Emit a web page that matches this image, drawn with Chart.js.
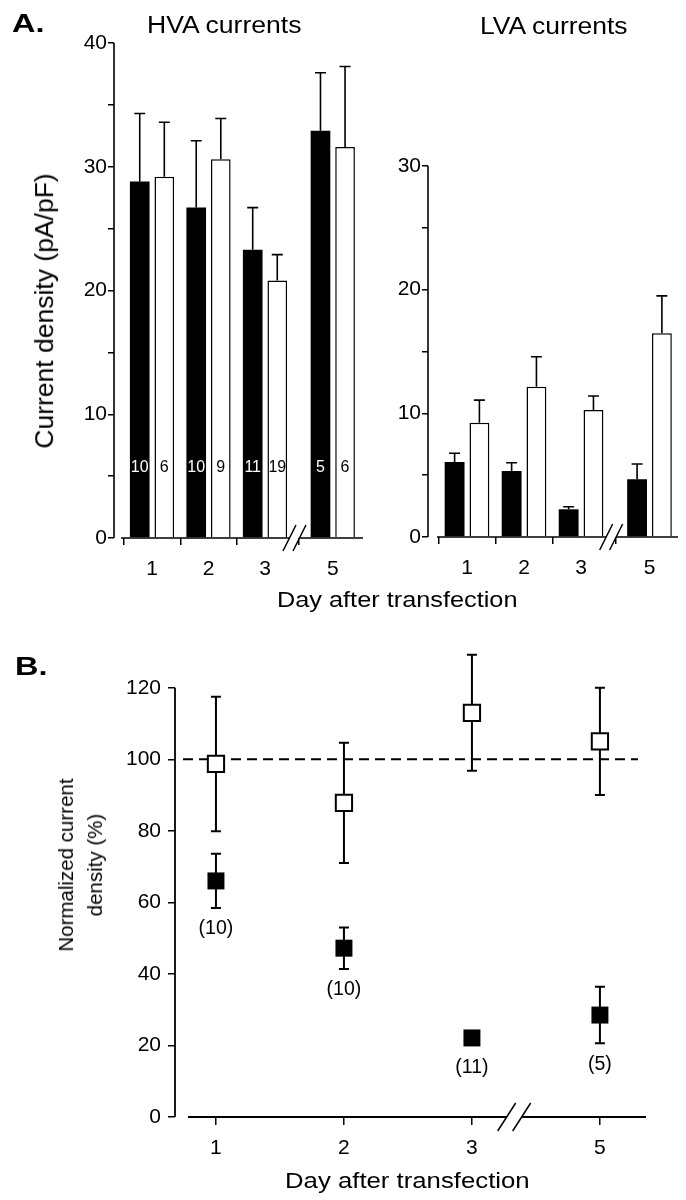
<!DOCTYPE html>
<html><head><meta charset="utf-8">
<script src="https://cdn.jsdelivr.net/npm/chart.js@4.4.1/dist/chart.umd.min.js"></script>
<style>
html,body{margin:0;padding:0;background:#fff;}
body{width:686px;height:1200px;position:relative;overflow:hidden;font-family:"Liberation Sans",Arial,sans-serif;color:#000;}
canvas{position:absolute;}
.t{position:absolute;white-space:nowrap;line-height:1;transform-origin:0 0;}
.r{position:absolute;white-space:nowrap;text-align:center;transform:translate(-50%,-50%) rotate(-90deg);}
</style></head><body>
<canvas id="hva" width="380" height="620" style="left:0;top:0"></canvas>
<canvas id="lva" width="306" height="620" style="left:380px;top:0"></canvas>
<canvas id="norm" width="686" height="580" style="left:0;top:620px"></canvas>

<div class="t" style="left:12px;top:11px;font-size:25px;font-weight:bold;transform:scaleX(1.3)">A.</div>
<div class="t" style="left:147px;top:13.5px;font-size:23px;transform:scaleX(1.155)">HVA currents</div>
<div class="t" style="left:480px;top:14.5px;font-size:23px;transform:scaleX(1.15)">LVA currents</div>
<div class="r" style="left:45px;top:311px;font-size:26.5px;line-height:1.2">Current density (pA/pF)</div>
<div class="t" style="left:277px;top:589px;font-size:22px;transform:scaleX(1.15)">Day after transfection</div>
<div class="t" style="left:15px;top:654px;font-size:25px;font-weight:bold;transform:scaleX(1.3)">B.</div>
<div class="r" style="left:80px;top:865px;font-size:20.5px;line-height:29px">Normalized current<br>density (%)</div>
<div class="t" style="left:285px;top:1170px;font-size:22px;transform:scaleX(1.17)">Day after transfection</div>

<script>
// ---------------- data ----------------
const days = ['1', '2', '3', '5'];

// Panel A, HVA currents (pA/pF)
const hvaFilled    = [28.8, 26.7, 23.3, 32.9];
const hvaFilledSem = [5.5, 5.4, 3.4, 4.7];
const hvaOpen      = [29.2, 30.6, 20.8, 31.6];
const hvaOpenSem   = [4.4, 3.3, 2.1, 6.5];
const hvaFilledN   = ['10', '10', '11', '5'];
const hvaOpenN     = ['6', '9', '19', '6'];

// Panel A, LVA currents (pA/pF)
const lvaFilled    = [6.06, 5.34, 2.24, 4.66];
const lvaFilledSem = [0.71, 0.66, 0.21, 1.24];
const lvaOpen      = [9.24, 12.15, 10.27, 16.47];
const lvaOpenSem   = [1.83, 2.43, 1.13, 3.03];

// Panel B, normalized current density (%)
const normFilled    = [66.0, 47.2, 22.1, 28.5];
const normFilledSem = [7.6, 5.8, 1.5, 7.9];
const normOpen      = [98.7, 87.8, 113.0, 105.0];
const normOpenSem   = [18.8, 16.8, 16.2, 15.0];
const normFilledN   = ['(10)', '(10)', '(11)', '(5)'];
const normRefLine   = 100;

// ---------------- styling ----------------
const FONT = '"Liberation Sans", Arial, sans-serif';
Chart.defaults.font.family = FONT;
Chart.defaults.color = '#000';
const breakIndex = 3;
const TICK_SIZE = 21;

const errBars = {
  id: 'errBars',
  _draw(chart, o) {
    const ctx = chart.ctx, ys = chart.scales.y;
    ctx.save();
    ctx.strokeStyle = '#000'; ctx.lineWidth = o.width; ctx.lineCap = 'butt';
    chart.data.datasets.forEach((ds, di) => {
      if (!ds.errors) return;
      chart.getDatasetMeta(di).data.forEach((el, i) => {
        const v = ds.data[i].y, e = ds.errors[i], x = el.x, h = o.cap / 2;
        const yHi = ys.getPixelForValue(v + e);
        const yLo = o.mode === 'both' ? ys.getPixelForValue(v - e) : ys.getPixelForValue(v);
        ctx.beginPath();
        ctx.moveTo(x, yLo); ctx.lineTo(x, yHi);
        ctx.moveTo(x - h, yHi); ctx.lineTo(x + h, yHi);
        if (o.mode === 'both') { ctx.moveTo(x - h, yLo); ctx.lineTo(x + h, yLo); }
        ctx.stroke();
      });
    });
    ctx.restore();
  },
  beforeDatasetsDraw(chart, args, o) { if (o.when === 'before') this._draw(chart, o); },
  afterDatasetsDraw(chart, args, o) { if (o.when !== 'before') this._draw(chart, o); }
};

const axesLines = {
  id: 'axesLines',
  afterDraw(chart, args, o) {
    const ctx = chart.ctx, a = chart.chartArea, xs = chart.scales.x, ys = chart.scales.y;
    const pos = o.pos;
    ctx.save();
    ctx.strokeStyle = '#000'; ctx.lineWidth = o.width; ctx.lineCap = 'butt';
    ctx.beginPath();
    ctx.moveTo(a.left, ys.getPixelForValue(o.yFrom));
    ctx.lineTo(a.left, ys.getPixelForValue(o.yTo));
    ctx.stroke();
    const by = ys.getPixelForValue(0);
    const bx = xs.getPixelForValue(pos[breakIndex - 1] + o.breakFrac * (pos[breakIndex] - pos[breakIndex - 1]));
    const s1 = bx - o.sep / 2, s2 = bx + o.sep / 2;
    ctx.beginPath();
    ctx.moveTo(a.left + o.xGap, by); ctx.lineTo(s1, by);
    ctx.moveTo(s2, by); ctx.lineTo(a.right, by);
    ctx.stroke();
    ctx.lineWidth = o.slashWidth;
    ctx.beginPath();
    [s1, s2].forEach(s => {
      ctx.moveTo(s - o.dx / 2, by + o.dy / 2);
      ctx.lineTo(s + o.dx / 2, by - o.dy / 2);
    });
    ctx.stroke();
    ctx.restore();
  }
};

const barCounts = {
  id: 'barCounts',
  afterDatasetsDraw(chart, args, o) {
    const ctx = chart.ctx, ys = chart.scales.y;
    ctx.save();
    ctx.font = o.size + 'px ' + FONT; ctx.textAlign = 'center'; ctx.textBaseline = 'middle';
    chart.data.datasets.forEach((ds, di) => {
      if (!ds.counts) return;
      ctx.fillStyle = ds.countColor;
      chart.getDatasetMeta(di).data.forEach((el, i) => {
        ctx.fillText(ds.counts[i], el.x, ys.getPixelForValue(o.labelValue));
      });
    });
    ctx.restore();
  }
};

const ptCounts = {
  id: 'ptCounts',
  afterDatasetsDraw(chart, args, o) {
    const ctx = chart.ctx, ys = chart.scales.y;
    ctx.save();
    ctx.font = o.size + 'px ' + FONT; ctx.textAlign = 'center'; ctx.textBaseline = 'middle';
    ctx.fillStyle = '#000';
    chart.data.datasets.forEach((ds, di) => {
      if (!ds.counts) return;
      chart.getDatasetMeta(di).data.forEach((el, i) => {
        const v = ds.data[i].y, e = ds.errors[i];
        const low = Math.max(ys.getPixelForValue(v - e), el.y + o.half);
        ctx.fillText(ds.counts[i], el.x, low + o.offset);
      });
    });
    ctx.restore();
  }
};

const refLine = {
  id: 'refLine',
  beforeDatasetsDraw(chart, args, o) {
    const ctx = chart.ctx, a = chart.chartArea, y = chart.scales.y.getPixelForValue(o.value);
    ctx.save();
    ctx.strokeStyle = '#000'; ctx.lineWidth = o.width; ctx.setLineDash(o.dash);
    ctx.beginPath(); ctx.moveTo(a.left + o.inset, y); ctx.lineTo(a.right - o.inset, y); ctx.stroke();
    ctx.restore();
  }
};

function positions(gap) { return days.map((d, i) => i + (i >= breakIndex ? gap : 0)); }

function xScale(pos, g) {
  return {
    type: 'linear', min: g.xMin, max: g.xMax, offset: false,
    afterBuildTicks: s => { s.ticks = pos.map(v => ({ value: v })); },
    afterFit: s => { s.height = g.xh; },
    grid: { display: true, drawOnChartArea: false, drawTicks: true, tickLength: g.xTick, color: '#000', lineWidth: 1.5 },
    border: { display: false },
    ticks: { autoSkip: false, maxRotation: 0, padding: g.xPad, color: '#000', font: { size: TICK_SIZE },
             callback: (v, i) => days[i] }
  };
}

function barChart(id, f, fSem, o, oSem, fN, oN, yMax, g) {
  const pos = positions(g.breakGap);
  return new Chart(document.getElementById(id), {
    type: 'bar',
    data: { datasets: [
      { data: f.map((v, i) => ({ x: pos[i], y: v })), backgroundColor: '#000', borderColor: '#000', borderWidth: 0,
        errors: fSem, counts: fN, countColor: '#fff', categoryPercentage: 0.87, barPercentage: 0.8 },
      { data: o.map((v, i) => ({ x: pos[i], y: v })), backgroundColor: '#fff', borderColor: '#000', borderWidth: 1.5,
        errors: oSem, counts: oN, countColor: '#000', categoryPercentage: 0.87, barPercentage: 0.8 }
    ] },
    options: {
      responsive: false, animation: false, devicePixelRatio: 1,
      layout: { padding: { left: 0, top: g.top, right: g.right, bottom: 0 } },
      plugins: {
        legend: { display: false }, tooltip: { enabled: false },
        errBars: { mode: 'up', cap: 11, width: 1.6, when: 'after' },
        axesLines: { pos, yFrom: 0, yTo: yMax, xGap: g.xGap, breakFrac: g.breakFrac, sep: 10, dx: 13, dy: 26, width: 1.6, slashWidth: 1.5 },
        barCounts: { labelValue: 5.65, size: 16 }
      },
      scales: {
        x: xScale(pos, g),
        y: { min: 0, max: yMax, afterFit: s => { s.width = g.yw; },
             grid: { display: true, drawOnChartArea: false, drawTicks: true, tickLength: 6, color: '#000', lineWidth: 1.5 },
             border: { display: false },
             ticks: { stepSize: 5, padding: 1, color: '#000', font: { size: TICK_SIZE },
                      callback: v => (v % 10 === 0 ? String(v) : '') } }
      }
    },
    plugins: [errBars, axesLines, barCounts]
  });
}

barChart('hva', hvaFilled, hvaFilledSem, hvaOpen, hvaOpenSem, hvaFilledN, hvaOpenN, 40,
  { breakGap: 0.2, xMin: -0.673, xMax: 3.735, top: 43, right: 17, yw: 114, xh: 82, xGap: 7, breakFrac: 0.435, xTick: 7, xPad: 12 });
barChart('lva', lvaFilled, lvaFilledSem, lvaOpen, lvaOpenSem, null, null, 30,
  { breakGap: 0.2, xMin: -0.684, xMax: 3.70, top: 166, right: 8, yw: 48, xh: 83, xGap: 9, breakFrac: 0.44, xTick: 7, xPad: 12 });

(function () {
  const g = { breakGap: 0, xMin: -0.32, xMax: 3.36, xh: 83, xTick: 8, xPad: 11 };
  const pos = positions(g.breakGap);
  new Chart(document.getElementById('norm'), {
    type: 'scatter',
    data: { datasets: [
      { data: normOpen.map((v, i) => ({ x: pos[i], y: v })), pointStyle: 'rect', pointRadius: 11.5, pointHoverRadius: 11.5,
        backgroundColor: '#fff', borderColor: '#000', borderWidth: 2, errors: normOpenSem },
      { data: normFilled.map((v, i) => ({ x: pos[i], y: v })), pointStyle: 'rect', pointRadius: 12, pointHoverRadius: 12,
        backgroundColor: '#000', borderColor: '#000', borderWidth: 0, errors: normFilledSem, counts: normFilledN }
    ] },
    options: {
      responsive: false, animation: false, devicePixelRatio: 1,
      layout: { padding: { left: 0, top: 32, right: 40, bottom: 0 } },
      plugins: {
        legend: { display: false }, tooltip: { enabled: false },
        errBars: { mode: 'both', cap: 10, width: 2, when: 'before' },
        refLine: { value: normRefLine, inset: 8, dash: [10, 6], width: 2 },
        ptCounts: { half: 8.5, offset: 21, size: 19.5 },
        axesLines: { pos, yFrom: 0, yTo: 120, xGap: 13, breakFrac: 0.33, sep: 15, dx: 18, dy: 28, width: 1.8, slashWidth: 1.5 }
      },
      scales: {
        x: xScale(pos, g),
        y: { min: 0, max: 130, afterFit: s => { s.width = 175; },
             afterBuildTicks: s => { s.ticks = s.ticks.filter(t => t.value <= 120); },
             grid: { display: true, drawOnChartArea: false, drawTicks: true, tickLength: 7, color: '#000', lineWidth: 1.5 },
             border: { display: false },
             ticks: { stepSize: 20, padding: 7, color: '#000', font: { size: TICK_SIZE } } }
      }
    },
    plugins: [errBars, refLine, axesLines, ptCounts]
  });
})();
</script>
</body></html>
